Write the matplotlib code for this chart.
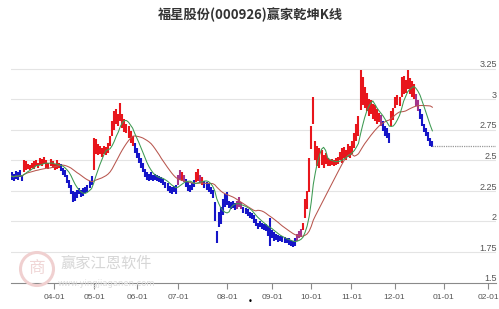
import numpy as np
import pandas as pd
import matplotlib
matplotlib.use("Agg")
import matplotlib.pyplot as plt
import matplotlib.transforms as mtransforms

title = "福星股份(000926)赢家乾坤K线"

# daily low / high, one entry per trading day
lo = [
    2.34, 2.33, 2.35, 2.34, 2.36, 2.33, 2.40, 2.42, 2.43, 2.42,
    2.44, 2.43, 2.45, 2.44, 2.46, 2.45, 2.47, 2.44, 2.43, 2.45,
    2.44, 2.42, 2.43, 2.44, 2.41, 2.38, 2.36, 2.31, 2.27, 2.22,
    2.16, 2.17, 2.19, 2.22, 2.20, 2.21, 2.23, 2.24, 2.27, 2.30,
    2.42, 2.55, 2.54, 2.55, 2.53, 2.55, 2.54, 2.56, 2.62, 2.70,
    2.75, 2.80, 2.78, 2.82, 2.76, 2.73, 2.72, 2.68, 2.64, 2.62,
    2.56, 2.52, 2.48, 2.44, 2.40, 2.36, 2.34, 2.33, 2.34, 2.33,
    2.34, 2.33, 2.32, 2.31, 2.30, 2.27, 2.25, 2.23, 2.22, 2.24,
    2.22, 2.30, 2.34, 2.33, 2.32, 2.28, 2.25, 2.24, 2.26, 2.28,
    2.32, 2.33, 2.31, 2.30, 2.27, 2.26, 2.24, 2.22, 2.19, 2.00,
    1.82, 1.95, 1.98, 2.05, 2.12, 2.13, 2.11, 2.10, 2.11, 2.09,
    2.10, 2.12, 2.10, 2.07, 2.06, 2.04, 2.03, 2.02, 1.99, 1.96,
    1.94, 1.95, 1.94, 1.93, 1.92, 1.88, 1.80, 1.86, 1.84, 1.85,
    1.83, 1.84, 1.83, 1.82, 1.82, 1.81, 1.80, 1.79, 1.80, 1.84,
    1.86, 1.87, 1.93, 2.03, 2.10, 2.24, 2.59, 2.80, 2.50, 2.45,
    2.44, 2.46, 2.44, 2.47, 2.45, 2.45, 2.46, 2.45, 2.46, 2.47,
    2.50, 2.48, 2.52, 2.50, 2.53, 2.52, 2.55, 2.60, 2.66, 2.70,
    2.91, 2.95, 2.93, 2.90, 2.86, 2.88, 2.84, 2.82, 2.80, 2.81,
    2.78, 2.74, 2.70, 2.68, 2.64, 2.78, 2.83, 2.93, 2.95, 2.94,
    3.02, 3.04, 3.05, 3.08, 3.04, 3.02, 3.00, 2.94, 2.90, 2.84,
    2.78, 2.73, 2.70, 2.66, 2.62, 2.61]
hi = [
    2.40, 2.39, 2.41, 2.40, 2.42, 2.38, 2.50, 2.49, 2.47, 2.46,
    2.48, 2.49, 2.50, 2.48, 2.52, 2.51, 2.53, 2.50, 2.48, 2.51,
    2.49, 2.47, 2.50, 2.48, 2.47, 2.44, 2.42, 2.38, 2.34, 2.30,
    2.25, 2.24, 2.26, 2.27, 2.26, 2.27, 2.28, 2.30, 2.33, 2.37,
    2.68, 2.67, 2.63, 2.62, 2.60, 2.62, 2.61, 2.64, 2.70, 2.82,
    2.90, 2.92, 2.88, 2.97, 2.88, 2.84, 2.80, 2.78, 2.74, 2.70,
    2.64, 2.60, 2.56, 2.52, 2.48, 2.43, 2.40, 2.39, 2.40, 2.38,
    2.39, 2.38, 2.37, 2.36, 2.35, 2.32, 2.31, 2.29, 2.28, 2.29,
    2.30, 2.38, 2.42, 2.40, 2.38, 2.35, 2.32, 2.30, 2.31, 2.34,
    2.40, 2.43, 2.38, 2.36, 2.33, 2.32, 2.31, 2.28, 2.26, 2.16,
    1.92, 2.08, 2.12, 2.18, 2.22, 2.24, 2.17, 2.16, 2.17, 2.15,
    2.17, 2.20, 2.16, 2.12, 2.11, 2.10, 2.08, 2.07, 2.05, 2.02,
    1.99, 2.00, 1.99, 1.98, 1.98, 1.96, 2.03, 1.93, 1.91, 1.90,
    1.89, 1.88, 1.88, 1.87, 1.86, 1.86, 1.85, 1.84, 1.86, 1.90,
    1.92, 1.94, 1.99, 2.18, 2.25, 2.52, 2.78, 3.02, 2.66, 2.62,
    2.60, 2.58, 2.54, 2.56, 2.52, 2.50, 2.51, 2.50, 2.52, 2.53,
    2.57, 2.60, 2.61, 2.58, 2.63, 2.62, 2.66, 2.72, 2.80, 2.86,
    3.24, 3.18, 3.10, 3.05, 3.00, 2.99, 2.96, 2.95, 2.92, 2.89,
    2.87, 2.82, 2.78, 2.76, 2.72, 2.90, 2.93, 3.02, 3.03, 3.02,
    3.18, 3.19, 3.16, 3.24, 3.17, 3.15, 3.12, 3.04, 2.99, 2.92,
    2.88, 2.80, 2.76, 2.73, 2.68, 2.66]

# colour state of the K line: b = weak, r = strong, p = turning
state_runs = [("b", 6), ("r", 18), ("b", 16), ("r", 20), ("b", 21),
              ("p", 2), ("r", 1), ("p", 1), ("b", 5), ("r", 2), ("p", 1), ("r", 1),
              ("b", 16), ("p", 3), ("b", 26), ("p", 3), ("r", 38), ("p", 1),
              ("b", 4), ("r", 12), ("p", 2), ("b", 7)]

last_close = 2.62
future_end = 236

tick_pos = [20.7, 40.2, 61.2, 81.2, 105.1, 127.1, 146.1, 165.6, 186.6, 210.5, 232.2]
tick_labels = ["04-01", "05-01", "06-01", "07-01", "08-01", "09-01",
               "10-01", "11-01", "12-01", "01-01", "02-01"]
y_ticks = [1.5, 1.75, 2, 2.25, 2.5, 2.75, 3, 3.25]
y_tick_labels = ["1.5", "1.75", "2", "2.25", "2.5", "2.75", "3", "3.25"]

colors = {"b": "#1515c8", "r": "#e8161c", "p": "#a3348c"}

lo = np.array(lo)
hi = np.array(hi)
x = np.arange(len(lo))
state = "".join(c * n for c, n in state_runs)

mid = pd.Series((lo + hi) / 2)
ma_short = mid.rolling(7, min_periods=1).mean()
ma_long = mid.rolling(20, min_periods=1).mean()

W, H = 499, 309
fig = plt.figure(figsize=(W / 100, H / 100), dpi=100)
ax = fig.add_axes([11 / W, (H - 282.5) / H, (496 - 11) / W, (282.5 - 38) / H])
ax.set_xlim(-0.25, future_end)
ax.set_ylim(1.5, 3.5)

for s in ["top", "right", "left"]:
    ax.spines[s].set_visible(False)
ax.spines["bottom"].set_color("#8a8a8a")
ax.spines["bottom"].set_linewidth(0.8)

for v in y_ticks[1:]:
    ax.axhline(v, color="#e4e4e4", lw=0.8, zorder=0)

# watermark
fig.text(60 / W, 1 - 263 / H, "赢家江恩软件", fontsize=11, color="#d6d6d6",
         family=["Noto Sans CJK SC"], va="center", ha="left", zorder=0)
fig.text(58 / W, 1 - 284 / H, "www.yingjiaganen.com", fontsize=6, color="#dcdcdc",
         va="center", ha="left", zorder=0)
logo = plt.Circle((0.37, (H - 269) / 100), 0.165, transform=fig.dpi_scale_trans,
                  fill=False, ec="#f0d0d0", lw=2.2, zorder=0)
fig.patches.append(logo)
fig.text(37 / W, 1 - 269 / H, "商", fontsize=12, color="#f0d6d6",
         family=["Noto Sans CJK SC"], ha="center", va="center", zorder=0)

for code in "brp":
    m = np.array([c == code for c in state])
    ax.vlines(x[m], lo[m], hi[m], color=colors[code], lw=1.5, zorder=2)

ax.plot(x, ma_long, color="#b8564e", lw=0.75, zorder=3)
ax.plot(x, ma_short, color="#3d9a52", lw=0.75, zorder=3)
ax.plot([x[-1], future_end], [last_close, last_close], color="#9a9a9a",
        lw=0.9, ls=(0, (1, 0.8)), zorder=3)

ax.set_yticks([])
ax.set_xticks(tick_pos)
ax.set_xticklabels(tick_labels, fontsize=6.0, color="#555555", family="Liberation Sans")
ax.tick_params(axis="x", length=4, width=0.8, color="#8a8a8a", pad=4)

trans = mtransforms.blended_transform_factory(fig.transFigure, ax.transData)
for v, lab in zip(y_ticks, y_tick_labels):
    ax.text(497 / W, v + 0.01, lab, transform=trans, ha="right", va="baseline",
            fontsize=6.5, color="#555555", family="Liberation Sans")

fig.text(250 / W, 1 - 15 / H, title, fontsize=9.5, fontweight="bold", color="#333333",
         family=["Noto Sans CJK SC", "DejaVu Sans"], ha="center", va="center")
fig.text(250 / W, 1 - 302 / H, "•", fontsize=6, color="black", ha="center", va="center")

fig.savefig("out.png", dpi=100)
